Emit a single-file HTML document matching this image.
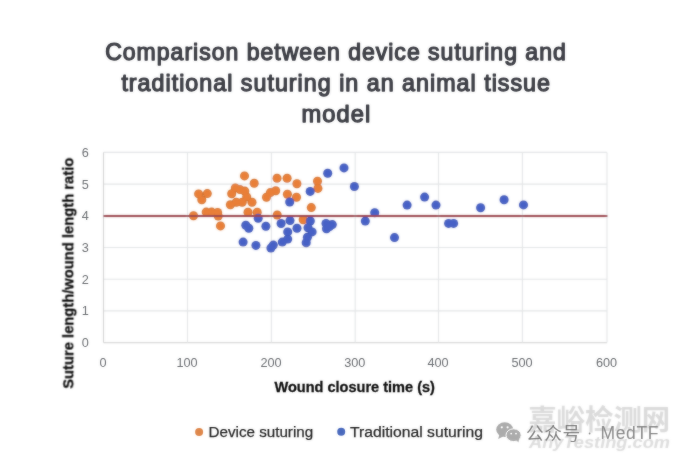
<!DOCTYPE html><html><head><meta charset="utf-8"><style>html,body{margin:0;padding:0;background:#fff}svg{display:block}text{font-family:"Liberation Sans",sans-serif}</style></head><body>
<svg width="680" height="460" viewBox="0 0 680 460">
<defs><filter id="b" x="-5%" y="-5%" width="110%" height="110%"><feGaussianBlur stdDeviation="1" result="bl"/><feComposite operator="arithmetic" in="bl" in2="SourceGraphic" k1="0" k2="0.55" k3="0.45" k4="0"/></filter><filter id="t" x="-5%" y="-5%" width="110%" height="110%"><feGaussianBlur stdDeviation="1" result="bl"/><feComposite operator="arithmetic" in="bl" in2="SourceGraphic" k1="0" k2="0.35" k3="0.65" k4="0"/></filter></defs>
<rect width="680" height="460" fill="#fff"/>
<g filter="url(#b)">
<line x1="103.5" x2="607" y1="342.6" y2="342.6" stroke="#d6d6d6" stroke-width="1.1"/>
<line x1="103.5" x2="607" y1="310.9" y2="310.9" stroke="#e2e4e6" stroke-width="1.1"/>
<line x1="103.5" x2="607" y1="279.2" y2="279.2" stroke="#e2e4e6" stroke-width="1.1"/>
<line x1="103.5" x2="607" y1="247.5" y2="247.5" stroke="#e2e4e6" stroke-width="1.1"/>
<line x1="103.5" x2="607" y1="215.8" y2="215.8" stroke="#e2e4e6" stroke-width="1.1"/>
<line x1="103.5" x2="607" y1="184.1" y2="184.1" stroke="#e2e4e6" stroke-width="1.1"/>
<line x1="103.5" x2="607" y1="152.4" y2="152.4" stroke="#e2e4e6" stroke-width="1.1"/>
<line x1="103.5" x2="103.5" y1="152.4" y2="342.6" stroke="#d0d0d0" stroke-width="1.1"/>
<line x1="187.5" x2="187.5" y1="152.4" y2="342.6" stroke="#e2e4e6" stroke-width="1.1"/>
<line x1="271.4" x2="271.4" y1="152.4" y2="342.6" stroke="#e2e4e6" stroke-width="1.1"/>
<line x1="355.2" x2="355.2" y1="152.4" y2="342.6" stroke="#e2e4e6" stroke-width="1.1"/>
<line x1="438.5" x2="438.5" y1="152.4" y2="342.6" stroke="#e2e4e6" stroke-width="1.1"/>
<line x1="522.4" x2="522.4" y1="152.4" y2="342.6" stroke="#e2e4e6" stroke-width="1.1"/>
<line x1="607.0" x2="607.0" y1="152.4" y2="342.6" stroke="#e2e4e6" stroke-width="1.1"/>
<g fill="#d0702e"><circle cx="193.5" cy="215.7" r="4.5"/><circle cx="198.6" cy="193.9" r="4.5"/><circle cx="207.3" cy="193.6" r="4.5"/><circle cx="201.8" cy="199.8" r="4.5"/><circle cx="206.2" cy="212.1" r="4.5"/><circle cx="211.6" cy="212.1" r="4.5"/><circle cx="217.6" cy="212.4" r="4.5"/><circle cx="218.2" cy="216.0" r="4.5"/><circle cx="220.5" cy="225.9" r="4.5"/><circle cx="244.5" cy="175.9" r="4.5"/><circle cx="254.2" cy="183.3" r="4.5"/><circle cx="235.3" cy="187.9" r="4.5"/><circle cx="240" cy="189.6" r="4.5"/><circle cx="231.7" cy="193.7" r="4.5"/><circle cx="244.8" cy="191.1" r="4.5"/><circle cx="246.7" cy="197" r="4.5"/><circle cx="252" cy="202.2" r="4.5"/><circle cx="242.2" cy="202.2" r="4.5"/><circle cx="236.3" cy="202.2" r="4.5"/><circle cx="230.4" cy="204.8" r="4.5"/><circle cx="248" cy="212.3" r="4.5"/><circle cx="257.2" cy="212.2" r="4.5"/><circle cx="277" cy="178.3" r="4.5"/><circle cx="287.1" cy="178.3" r="4.5"/><circle cx="296.9" cy="183.7" r="4.5"/><circle cx="275.7" cy="190.7" r="4.5"/><circle cx="270.4" cy="192.6" r="4.5"/><circle cx="266.5" cy="197.2" r="4.5"/><circle cx="287.4" cy="194.2" r="4.5"/><circle cx="296.5" cy="197.2" r="4.5"/><circle cx="277.2" cy="215" r="4.5"/><circle cx="311.3" cy="207.6" r="4.5"/><circle cx="317.5" cy="181.2" r="4.5"/><circle cx="317.9" cy="188.4" r="4.5"/><circle cx="303.2" cy="219.7" r="4.5"/></g>
<g fill="#e97f38"><circle cx="193.5" cy="215.7" r="3.6"/><circle cx="198.6" cy="193.9" r="3.6"/><circle cx="207.3" cy="193.6" r="3.6"/><circle cx="201.8" cy="199.8" r="3.6"/><circle cx="206.2" cy="212.1" r="3.6"/><circle cx="211.6" cy="212.1" r="3.6"/><circle cx="217.6" cy="212.4" r="3.6"/><circle cx="218.2" cy="216.0" r="3.6"/><circle cx="220.5" cy="225.9" r="3.6"/><circle cx="244.5" cy="175.9" r="3.6"/><circle cx="254.2" cy="183.3" r="3.6"/><circle cx="235.3" cy="187.9" r="3.6"/><circle cx="240" cy="189.6" r="3.6"/><circle cx="231.7" cy="193.7" r="3.6"/><circle cx="244.8" cy="191.1" r="3.6"/><circle cx="246.7" cy="197" r="3.6"/><circle cx="252" cy="202.2" r="3.6"/><circle cx="242.2" cy="202.2" r="3.6"/><circle cx="236.3" cy="202.2" r="3.6"/><circle cx="230.4" cy="204.8" r="3.6"/><circle cx="248" cy="212.3" r="3.6"/><circle cx="257.2" cy="212.2" r="3.6"/><circle cx="277" cy="178.3" r="3.6"/><circle cx="287.1" cy="178.3" r="3.6"/><circle cx="296.9" cy="183.7" r="3.6"/><circle cx="275.7" cy="190.7" r="3.6"/><circle cx="270.4" cy="192.6" r="3.6"/><circle cx="266.5" cy="197.2" r="3.6"/><circle cx="287.4" cy="194.2" r="3.6"/><circle cx="296.5" cy="197.2" r="3.6"/><circle cx="277.2" cy="215" r="3.6"/><circle cx="311.3" cy="207.6" r="3.6"/><circle cx="317.5" cy="181.2" r="3.6"/><circle cx="317.9" cy="188.4" r="3.6"/><circle cx="303.2" cy="219.7" r="3.6"/></g>
<g fill="#3b51b2"><circle cx="258.2" cy="218.2" r="4.5"/><circle cx="245.8" cy="225.3" r="4.5"/><circle cx="248.8" cy="228.3" r="4.5"/><circle cx="265.9" cy="226.3" r="4.5"/><circle cx="281.1" cy="223.5" r="4.5"/><circle cx="290" cy="220.6" r="4.5"/><circle cx="297" cy="228.3" r="4.5"/><circle cx="287.7" cy="231.9" r="4.5"/><circle cx="287.7" cy="239.1" r="4.5"/><circle cx="282.3" cy="242.1" r="4.5"/><circle cx="273.3" cy="245.1" r="4.5"/><circle cx="270.9" cy="248.1" r="4.5"/><circle cx="255.9" cy="245.4" r="4.5"/><circle cx="243.1" cy="242.1" r="4.5"/><circle cx="289.7" cy="202" r="4.5"/><circle cx="310.2" cy="191.4" r="4.5"/><circle cx="310.3" cy="221" r="4.5"/><circle cx="308" cy="227.7" r="4.5"/><circle cx="312.1" cy="231.9" r="4.5"/><circle cx="307.4" cy="237.3" r="4.5"/><circle cx="306.2" cy="242.7" r="4.5"/><circle cx="326" cy="223.4" r="4.5"/><circle cx="326.5" cy="228.8" r="4.5"/><circle cx="332.3" cy="224.6" r="4.5"/><circle cx="329.5" cy="226.6" r="4.5"/><circle cx="327.7" cy="173.3" r="4.5"/><circle cx="344" cy="167.9" r="4.5"/><circle cx="354.4" cy="186.5" r="4.5"/><circle cx="374.7" cy="212.7" r="4.5"/><circle cx="365.3" cy="221.1" r="4.5"/><circle cx="394.5" cy="237.6" r="4.5"/><circle cx="407.1" cy="205.1" r="4.5"/><circle cx="424.6" cy="197.1" r="4.5"/><circle cx="436" cy="205.1" r="4.5"/><circle cx="448.6" cy="223.4" r="4.5"/><circle cx="453.6" cy="223.4" r="4.5"/><circle cx="480.6" cy="207.7" r="4.5"/><circle cx="504.1" cy="199.8" r="4.5"/><circle cx="523.5" cy="204.9" r="4.5"/></g>
<g fill="#4661c6"><circle cx="258.2" cy="218.2" r="3.6"/><circle cx="245.8" cy="225.3" r="3.6"/><circle cx="248.8" cy="228.3" r="3.6"/><circle cx="265.9" cy="226.3" r="3.6"/><circle cx="281.1" cy="223.5" r="3.6"/><circle cx="290" cy="220.6" r="3.6"/><circle cx="297" cy="228.3" r="3.6"/><circle cx="287.7" cy="231.9" r="3.6"/><circle cx="287.7" cy="239.1" r="3.6"/><circle cx="282.3" cy="242.1" r="3.6"/><circle cx="273.3" cy="245.1" r="3.6"/><circle cx="270.9" cy="248.1" r="3.6"/><circle cx="255.9" cy="245.4" r="3.6"/><circle cx="243.1" cy="242.1" r="3.6"/><circle cx="289.7" cy="202" r="3.6"/><circle cx="310.2" cy="191.4" r="3.6"/><circle cx="310.3" cy="221" r="3.6"/><circle cx="308" cy="227.7" r="3.6"/><circle cx="312.1" cy="231.9" r="3.6"/><circle cx="307.4" cy="237.3" r="3.6"/><circle cx="306.2" cy="242.7" r="3.6"/><circle cx="326" cy="223.4" r="3.6"/><circle cx="326.5" cy="228.8" r="3.6"/><circle cx="332.3" cy="224.6" r="3.6"/><circle cx="329.5" cy="226.6" r="3.6"/><circle cx="327.7" cy="173.3" r="3.6"/><circle cx="344" cy="167.9" r="3.6"/><circle cx="354.4" cy="186.5" r="3.6"/><circle cx="374.7" cy="212.7" r="3.6"/><circle cx="365.3" cy="221.1" r="3.6"/><circle cx="394.5" cy="237.6" r="3.6"/><circle cx="407.1" cy="205.1" r="3.6"/><circle cx="424.6" cy="197.1" r="3.6"/><circle cx="436" cy="205.1" r="3.6"/><circle cx="448.6" cy="223.4" r="3.6"/><circle cx="453.6" cy="223.4" r="3.6"/><circle cx="480.6" cy="207.7" r="3.6"/><circle cx="504.1" cy="199.8" r="3.6"/><circle cx="523.5" cy="204.9" r="3.6"/></g>
<line x1="103.5" x2="607.4" y1="216.0" y2="216.0" stroke="#9a424b" stroke-width="2.1"/>
</g><g filter="url(#t)">
<text x="105.2" y="59.6" font-size="23.2" fill="#3f4047" stroke="#3f4047" stroke-width="1.25" stroke-linejoin="round" letter-spacing="1.0" textLength="461.6" lengthAdjust="spacingAndGlyphs">Comparison between device suturing and</text>
<text x="121.4" y="90.9" font-size="23.2" fill="#3f4047" stroke="#3f4047" stroke-width="1.25" stroke-linejoin="round" letter-spacing="1.0" textLength="429.6" lengthAdjust="spacingAndGlyphs">traditional suturing in an animal tissue</text>
<text x="301.6" y="122.2" font-size="23.2" fill="#3f4047" stroke="#3f4047" stroke-width="1.25" stroke-linejoin="round" letter-spacing="1.0" textLength="69.6" lengthAdjust="spacingAndGlyphs">model</text>
<text x="85.2" y="347.1" text-anchor="middle" font-size="12.7" fill="#6b6e72">0</text>
<text x="85.2" y="315.4" text-anchor="middle" font-size="12.7" fill="#6b6e72">1</text>
<text x="85.2" y="283.7" text-anchor="middle" font-size="12.7" fill="#6b6e72">2</text>
<text x="85.2" y="252.0" text-anchor="middle" font-size="12.7" fill="#6b6e72">3</text>
<text x="85.2" y="220.3" text-anchor="middle" font-size="12.7" fill="#6b6e72">4</text>
<text x="85.2" y="188.6" text-anchor="middle" font-size="12.7" fill="#6b6e72">5</text>
<text x="85.2" y="156.9" text-anchor="middle" font-size="12.7" fill="#6b6e72">6</text>
<text x="103.1" y="366.9" text-anchor="middle" font-size="12.7" fill="#6b6e72">0</text>
<text x="187.1" y="366.9" text-anchor="middle" font-size="12.7" fill="#6b6e72">100</text>
<text x="271.0" y="366.9" text-anchor="middle" font-size="12.7" fill="#6b6e72">200</text>
<text x="354.8" y="366.9" text-anchor="middle" font-size="12.7" fill="#6b6e72">300</text>
<text x="438.1" y="366.9" text-anchor="middle" font-size="12.7" fill="#6b6e72">400</text>
<text x="522.0" y="366.9" text-anchor="middle" font-size="12.7" fill="#6b6e72">500</text>
<text x="606.6" y="366.9" text-anchor="middle" font-size="12.7" fill="#6b6e72">600</text>
<text transform="translate(73.3,388.7) rotate(-90)" font-size="15.5" font-weight="bold" fill="#101010" stroke="#101010" stroke-width="0.3" textLength="231" lengthAdjust="spacingAndGlyphs">Suture length/wound length ratio</text>
<text x="274.5" y="392" font-size="14.6" font-weight="bold" fill="#101010" stroke="#101010" stroke-width="0.3" textLength="160.4" lengthAdjust="spacingAndGlyphs">Wound closure time (s)</text>
<circle cx="199.1" cy="431.9" r="4.0" fill="#de864a"/>
<text x="208.5" y="436.6" font-size="15.3" fill="#262626" stroke="#262626" stroke-width="0.25" textLength="104.7" lengthAdjust="spacingAndGlyphs">Device suturing</text>
<circle cx="341.2" cy="431.8" r="4.0" fill="#4969bd"/>
<text x="350" y="436.6" font-size="15.3" fill="#262626" stroke="#262626" stroke-width="0.25" textLength="133" lengthAdjust="spacingAndGlyphs">Traditional suturing</text>
</g><g filter="url(#b)">
<g fill="#dadada" opacity="1"><text x="528.2" y="429.7" font-size="28.4" font-weight="bold" textLength="142" lengthAdjust="spacing" style="font-family:'Liberation Sans','Noto Sans CJK SC',sans-serif">嘉峪检测网</text></g>
<text x="529" y="447.6" font-size="15.6" font-weight="bold" font-style="italic" fill="#dcdcdc" textLength="141" lengthAdjust="spacingAndGlyphs">AnyTesting.com</text>
</g><g filter="url(#t)">
<g fill="#ababab">
<ellipse cx="504.7" cy="429.6" rx="8.5" ry="7.3"/><path d="M499.5 434 L498.2 439 L503.5 436.2 Z"/>
<ellipse cx="513.6" cy="435.2" rx="7.6" ry="6.4" stroke="#fff" stroke-width="1"/><path d="M516.5 440 L518.3 442.6 L519.3 438.5 Z"/>
</g>
<g fill="#fff"><circle cx="501.8" cy="427.3" r="1.1"/><circle cx="507.6" cy="427.3" r="1.1"/><circle cx="511.2" cy="433.6" r="0.95"/><circle cx="516" cy="433.6" r="0.95"/></g>
<g fill="#7a7a7a" opacity="1"><text x="526.1" y="439.9" font-size="17.7" textLength="54.1" lengthAdjust="spacing" style="font-family:'Liberation Sans','Noto Sans CJK SC',sans-serif">公众号</text></g>
<circle cx="589.6" cy="433.5" r="0.9" fill="#858585"/>
<text x="600.6" y="438.8" font-size="17.5" fill="#868686" textLength="57.8" lengthAdjust="spacing">MedTF</text>
</g></svg></body></html>
